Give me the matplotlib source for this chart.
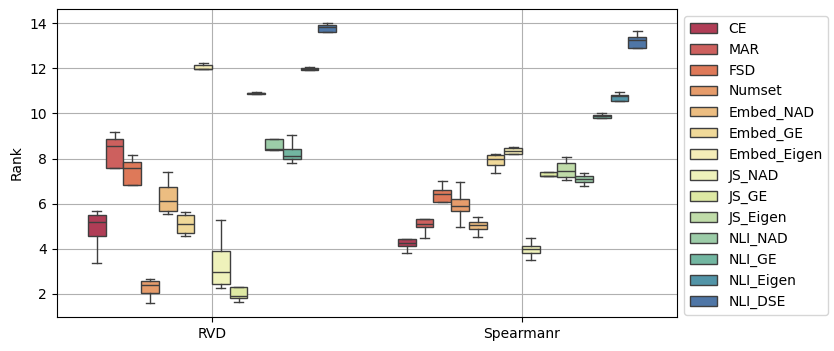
import colorsys

import matplotlib

matplotlib.use("Agg")
import matplotlib.pyplot as plt
import numpy as np
from matplotlib.patches import Patch

metrics = ["RVD", "Spearmanr"]
methods = [
    "CE", "MAR", "FSD", "Numset", "Embed_NAD", "Embed_GE", "Embed_Eigen",
    "JS_NAD", "JS_GE", "JS_Eigen", "NLI_NAD", "NLI_GE", "NLI_Eigen", "NLI_DSE",
]

# box statistics per metric, in method order
rvd_whislo = [3.37, 7.58, 6.83, 1.62, 5.54, 4.57, 11.95, 2.27, 1.65, 10.87, 8.38, 7.80, 11.92, 13.60]
rvd_q1 = [4.57, 7.58, 6.83, 2.04, 5.68, 4.70, 11.95, 2.44, 1.82, 10.88, 8.38, 7.96, 11.94, 13.60]
rvd_med = [5.20, 8.57, 7.59, 2.41, 6.12, 5.10, 11.98, 2.97, 1.91, 10.90, 8.43, 8.11, 11.97, 13.81]
rvd_q3 = [5.48, 8.86, 7.84, 2.56, 6.72, 5.48, 12.13, 3.89, 2.31, 10.92, 8.86, 8.42, 12.02, 13.91]
rvd_whishi = [5.69, 9.17, 8.15, 2.66, 7.40, 5.63, 12.25, 5.28, 2.31, 10.93, 8.86, 9.04, 12.04, 14.00]

spe_whislo = [3.82, 4.48, 6.09, 4.97, 4.52, 7.36, 8.21, 3.52, 7.21, 7.05, 6.78, 9.79, 10.55, 12.88]
spe_q1 = [4.13, 4.95, 6.09, 5.68, 4.88, 7.73, 8.21, 3.82, 7.21, 7.18, 6.96, 9.79, 10.55, 12.88]
spe_med = [4.27, 5.11, 6.44, 5.91, 5.04, 7.96, 8.35, 4.00, 7.23, 7.46, 7.11, 9.88, 10.75, 13.25]
spe_q3 = [4.44, 5.32, 6.60, 6.21, 5.19, 8.15, 8.45, 4.13, 7.42, 7.80, 7.22, 9.94, 10.81, 13.38]
spe_whishi = [4.44, 5.32, 6.99, 6.96, 5.41, 8.20, 8.52, 4.48, 7.42, 8.08, 7.36, 10.01, 10.94, 13.65]

stats_by_metric = {
    "RVD": (rvd_whislo, rvd_q1, rvd_med, rvd_q3, rvd_whishi),
    "Spearmanr": (spe_whislo, spe_q1, spe_med, spe_q3, spe_whishi),
}


def _desaturate(rgb, prop=0.75):
    h, l, s = colorsys.rgb_to_hls(*rgb)
    return colorsys.hls_to_rgb(h, l, s * prop)


n = len(methods)
cmap = matplotlib.colormaps["Spectral"]
colors = [_desaturate(cmap(v)[:3]) for v in np.linspace(0, 1, n + 2)[1:-1]]
line_color = "#3f3f3f"
lw = 1.0

fig = plt.figure(figsize=(8.34, 3.51), dpi=100)
ax = fig.add_axes([0.0683, 0.097, 0.7435, 0.877])

width = 0.8 / n
for i, metric in enumerate(metrics):
    lo, q1, med, q3, hi = stats_by_metric[metric]
    for j in range(n):
        pos = i - 0.4 + (j + 0.5) * width
        st = [{"whislo": lo[j], "q1": q1[j], "med": med[j], "q3": q3[j],
               "whishi": hi[j], "fliers": []}]
        ax.bxp(
            st,
            positions=[pos],
            widths=width,
            patch_artist=True,
            showfliers=False,
            manage_ticks=False,
            boxprops=dict(facecolor=colors[j], edgecolor=line_color, linewidth=lw),
            medianprops=dict(color=line_color, linewidth=lw),
            whiskerprops=dict(color=line_color, linewidth=lw),
            capprops=dict(color=line_color, linewidth=lw),
        )

ax.set_xlim(-0.5, len(metrics) - 0.5)
ax.set_xticks(range(len(metrics)))
ax.set_xticklabels(metrics)
ax.set_ylim(0.98, 14.62)
ax.set_ylabel("Rank")
ax.grid(True)
ax.set_axisbelow(True)

handles = [Patch(facecolor=c, edgecolor=line_color, linewidth=lw, label=m)
           for c, m in zip(colors, methods)]
ax.legend(handles=handles, loc="upper left", bbox_to_anchor=(1, 1))

fig.savefig("out.png", dpi=100)
